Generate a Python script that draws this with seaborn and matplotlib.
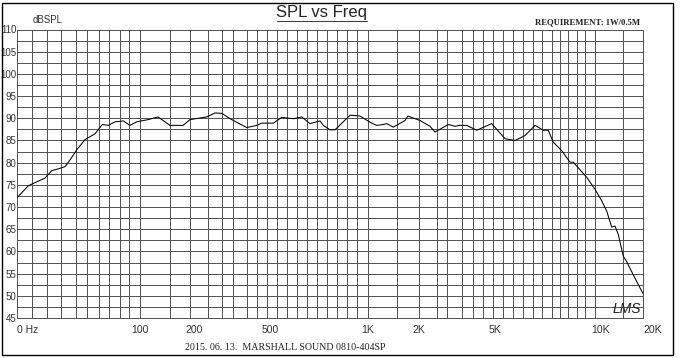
import numpy as np
import matplotlib
matplotlib.use("Agg")
import matplotlib.pyplot as plt
from matplotlib.lines import Line2D
from matplotlib.patches import Rectangle
import seaborn as sns
sns.set_style("white")
plt.rcParams['font.family'] = ['Liberation Sans', 'DejaVu Sans']

# frequency response (Hz, dB SPL)
freq = [20, 23.2, 25.3, 28.8, 31.5, 34.3, 37.5, 40, 43.7, 48.7, 55.5, 61.1, 66, 72.1,
        80.4, 87.7, 95.8, 111, 126, 147, 174, 190, 233, 258, 280, 309, 378, 426, 452,
        512, 543, 590, 626, 663, 712, 729, 764, 792, 881, 945, 1051, 1125, 1231, 1290,
        1410, 1654, 1720, 2024, 2284, 2426, 2848, 3087, 3279, 3555, 4012, 4806, 5342,
        5706, 6095, 6512, 6879, 7108, 7347, 7767, 8204, 8384, 9160, 9676, 10280, 11140,
        12070, 12740, 13430, 14560, 15380, 17110, 20000]
spl = [72.1, 74.8, 75.5, 76.5, 78.2, 78.6, 79.1, 80.6, 82.9, 85.2, 86.5, 88.6, 88.4, 89.2,
       89.4, 88.4, 89.2, 89.7, 90.3, 88.4, 88.4, 89.7, 90.3, 91.2, 91.1, 89.9, 87.9, 88.4, 88.9,
       88.9, 90.2, 89.9, 90.3, 88.8, 89.4, 88.4, 87.4, 87.4, 90.7, 90.5, 88.9, 88.4, 88.6, 88.8,
       88.0, 89.5, 90.5, 89.5, 88.2, 86.9, 88.6, 88.2, 88.4, 88.4, 87.3, 88.8, 85.4,
       85.0, 86.1, 88.4, 87.3, 87.3, 84.6, 82.7, 80.1, 80.1, 76.7, 74.0, 71.4, 69.1,
       65.5, 65.7, 63.8, 58.9, 57.7, 54.7, 50.5]

# axis ticks as printed on the chart paper
tick_freqs = [20, 100, 200, 500, 1000, 2000, 5000, 10000, 20000]
tick_labels = ['0 Hz', '100', '200', '500', '1K', '2K', '5K', '10K', '20K']
db_ticks = list(range(45, 111, 5))

# the printed paper is not a clean log scale: piecewise log mapping (paper units)
anchor_pos = [0, 123, 177, 253, 351, 402, 478, 583, 626]
anchor_log = np.log10(tick_freqs)
paper_width = 626.0
# vertical rulings of the chart paper, in paper units
grid_pos = [0, 14.7, 29.7, 43.7, 58.7, 70.3, 82.3, 92.3, 103, 112.3, 123, 153, 173, 191,
            205, 216, 230, 240, 250, 260, 270, 280, 290, 300, 310, 320, 330, 340, 351,
            380, 402, 420, 430, 445, 456, 466, 476, 486, 496, 506, 516, 525, 535, 543,
            551, 560, 568, 578, 606, 626]


def fwd(f):
    f = np.clip(np.asarray(f, dtype=float), 1e-3, None)
    return np.interp(np.log10(f), anchor_log, anchor_pos)


def inv(p):
    return 10 ** np.interp(p, anchor_pos, anchor_log)


fig = plt.figure(figsize=(6.8, 3.58), dpi=100)
ax = fig.add_axes([17 / 680, 40 / 358, 626 / 680, 288.5 / 358])

sns.lineplot(x=freq, y=spl, ax=ax, color='black', lw=0.75, sort=False)
ax.set_xscale('function', functions=(fwd, inv))
ax.set_xlim(20, 20000)
ax.set_ylim(45, 110)

# chart paper grid
grid_col = '#505050'
for y in np.arange(45, 110.1, 2.5):
    ax.axhline(y, color=grid_col, lw=0.7, zorder=0, clip_on=False)
ax.vlines(np.array(grid_pos) / paper_width, 0, 1, transform=ax.transAxes,
          color=grid_col, lw=0.7, zorder=0, clip_on=False)
for s in ax.spines.values():
    s.set_visible(False)

# ticks
ax.set_xticks(tick_freqs)
ax.set_xticklabels(tick_labels)
ax.xaxis.set_minor_locator(matplotlib.ticker.NullLocator())
ax.set_yticks(db_ticks)
ax.set_yticklabels([str(v) for v in db_ticks])
ax.tick_params(axis='x', length=0, pad=5, labelsize=7.5, labelcolor='#333333')
ax.tick_params(axis='y', length=0, pad=0.4, labelsize=7, labelcolor='#333333')
xt = ax.get_xticklabels()
xt[0].set_ha('left')
xt[-1].set_ha('left')
ax.set_xlabel('')
ax.set_ylabel('')

# header and footer texts
fig.text(322 / 680, 1 - 13 / 358, 'SPL vs Freq', ha='center', va='center',
         fontsize=12, color='#222222')
fig.add_artist(Line2D([277 / 680, 367 / 680], [1 - 21 / 358, 1 - 21 / 358],
                      color='#444444', lw=0.8))
fig.text(33 / 680, 1 - 20 / 358, 'dBSPL', ha='left', va='center', fontsize=7, color='#333333')
fig.text(535 / 680, 1 - 22 / 358, 'REQUIREMENT: 1W/0.5M', ha='left', va='center',
         fontsize=6.2, fontweight='bold', family='Liberation Serif', color='#222222')
fig.text(185 / 680, 1 - 348 / 358, '2015. 06. 13.  MARSHALL SOUND 0810-404SP', ha='left',
         va='center', fontsize=7.2, family='Liberation Serif', color='#222222')
fig.text(613 / 680, 1 - 309 / 358, 'LMS', ha='left', va='center', fontsize=10,
         style='italic', color='#222222')

# outer frame
fig.add_artist(Rectangle((2 / 680, 3 / 358), 671 / 680, 352 / 358, fill=False,
                         edgecolor='black', lw=1, transform=fig.transFigure))

plt.savefig('out.png', dpi=100)
